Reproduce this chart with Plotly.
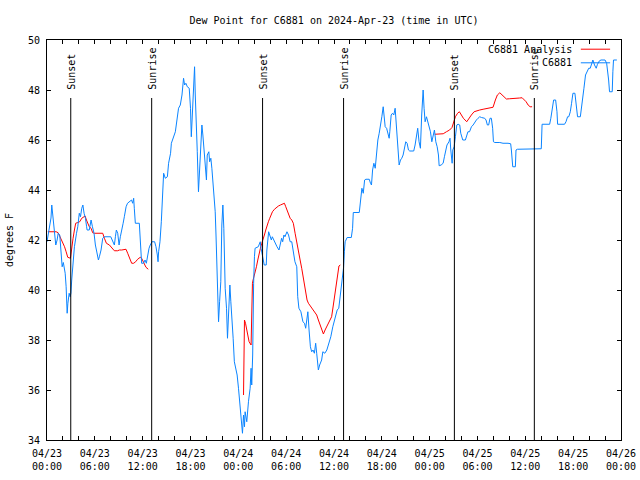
import pandas as pd
import plotly.graph_objects as go

START = pd.Timestamp("2024-04-23 00:00")
END = pd.Timestamp("2024-04-26 00:00")

# C6881 observations: hours since 2024-04-23 00:00 UTC, dew point (F)
obs_hours = [
    0.0, 0.2, 0.5, 0.6, 0.7, 0.85, 1.0, 1.1, 1.27, 1.4, 1.6, 1.78, 1.9, 2.05, 2.28, 2.4, 2.53, 2.62, 2.78, 2.9,
    3.0, 3.1, 3.3, 3.44, 3.7, 3.86, 4.05, 4.2, 4.36, 4.5, 4.65, 4.82, 4.97, 5.03, 5.3, 5.53, 5.7, 5.9, 6.07, 6.28,
    6.45, 6.57, 6.78, 6.99, 7.2, 8.0, 8.2, 8.45, 8.58, 8.7, 8.87, 9.04, 9.2, 9.37, 9.55, 9.7, 9.92, 10.1, 10.4, 10.6,
    10.75, 10.87, 10.95, 11.08, 11.58, 11.7, 11.87, 12.1, 12.3, 12.46, 12.6, 12.8, 12.95, 13.17, 13.5, 13.67, 13.84, 13.93, 14.0, 14.17,
    14.34, 14.5, 14.63, 14.84, 15.1, 15.25, 15.5, 15.6, 15.95, 16.1, 16.3, 16.5, 16.72, 16.93, 17.13, 17.26, 17.42, 17.6, 17.84, 18.0,
    18.1, 18.2, 18.3, 18.4, 18.51, 18.6, 18.72, 18.85, 19.0, 19.1, 19.25, 19.43, 19.55, 19.68, 19.85, 20.0, 20.1, 20.3, 20.4, 20.55,
    20.68, 20.9, 21.1, 21.2, 21.3, 21.45, 21.52, 21.65, 21.8, 21.93, 22.06, 22.18, 22.27, 22.35, 22.52, 22.64, 22.77, 22.94, 23.06, 23.18,
    23.35, 23.5, 23.68, 23.85, 24.02, 24.18, 24.35, 24.52, 24.65, 24.77, 24.85, 25.06, 25.27, 25.48, 25.6, 25.68, 25.8, 25.85, 25.92, 26.02,
    26.1, 26.5, 26.65, 26.75, 26.85, 27.1, 27.25, 27.5, 27.58, 27.8, 27.97, 28.14, 28.26, 28.43, 28.6, 28.85, 29.1, 29.27, 29.43, 29.56,
    29.72, 29.85, 30.1, 30.3, 30.5, 30.7, 30.9, 31.1, 31.33, 31.45, 31.6, 31.85, 32.1, 32.3, 32.45, 32.6, 32.72, 32.87, 33.04, 33.2,
    33.37, 33.54, 33.7, 33.83, 34.04, 34.2, 34.45, 34.6, 34.85, 35.1, 35.35, 35.6, 35.85, 36.1, 36.4, 36.6, 36.85, 37.0, 37.2, 37.3,
    37.4, 37.65, 38.17, 38.33, 38.42, 39.17, 39.25, 39.34, 39.5, 39.67, 39.84, 40.0, 40.42, 40.58, 40.7, 40.84, 41.0, 41.17, 41.34, 41.5,
    41.67, 41.84, 42.0, 42.17, 42.3, 42.42, 42.6, 42.76, 42.92, 43.0, 43.17, 43.34, 43.5, 43.67, 43.84, 44.0, 44.17, 44.34, 44.5, 44.67,
    44.84, 45.0, 45.17, 45.34, 45.5, 46.0, 46.17, 46.34, 46.5, 46.67, 46.84, 47.0, 47.18, 47.3, 47.43, 47.6, 47.77, 47.94, 48.1, 48.27,
    48.43, 48.6, 48.77, 48.94, 49.1, 49.19, 49.44, 49.69, 49.85, 50.0, 50.17, 50.42, 50.55, 50.65, 50.82, 50.9, 51.07, 51.23, 51.4, 51.57,
    51.77, 51.9, 52.15, 52.48, 52.65, 52.8, 53.0, 53.24, 53.45, 53.65, 53.86, 54.07, 54.28, 54.5, 54.7, 54.9, 55.07, 55.24, 55.4, 55.57,
    55.74, 55.9, 56.0, 56.17, 56.8, 57.2, 57.83, 58.16, 58.25, 58.42, 58.75, 58.83, 59.0, 60.3, 60.66, 62.0, 62.1, 63.05, 63.2, 63.4,
    63.55, 63.8, 63.97, 64.05, 64.92, 65.1, 65.3, 65.45, 65.64, 65.8, 65.97, 66.22, 66.38, 66.55, 66.9, 67.05, 67.2, 67.35, 67.55, 67.7,
    67.95, 68.14, 68.3, 68.47, 68.68, 68.89, 69.05, 69.3, 69.5, 69.7, 69.9, 70.0, 70.2, 70.35, 70.45, 70.56, 70.9, 70.98, 71.06, 71.48,
]
obs_dewpt = [
    41.93, 42.33, 42.88, 43.4, 43.1, 42.6, 41.93, 41.8, 42.0, 42.27, 42.2, 41.27, 40.93, 41.1, 40.67, 40.13, 39.07, 39.47, 39.87, 39.73,
    39.87, 40.4, 41.07, 41.73, 42.27, 42.53, 43.07, 42.93, 43.27, 43.4, 43.07, 42.87, 42.53, 42.4, 42.4, 42.8, 42.53, 42.27, 41.8, 41.53,
    41.2, 41.33, 41.6, 42.07, 42.13, 42.13, 42.0, 41.8, 42.13, 42.4, 42.27, 41.8, 42.13, 42.47, 42.67, 42.93, 43.33, 43.47, 43.53, 43.6,
    43.47, 43.67, 43.27, 42.67, 42.67, 41.87, 41.07, 41.07, 41.2, 41.07, 41.33, 41.67, 41.8, 41.93, 41.93, 41.73, 41.4, 41.13, 41.53, 41.93,
    42.73, 43.8, 44.67, 44.47, 44.53, 45.07, 45.47, 45.87, 46.27, 46.33, 46.8, 47.27, 47.4, 47.8, 48.47, 48.2, 48.27, 48.13, 48.07, 47.27,
    46.13, 46.87, 47.4, 48.4, 48.93, 47.8, 47.0, 45.53, 43.93, 44.6, 45.8, 46.6, 46.2, 45.67, 45.0, 44.4, 45.4, 45.53, 45.13, 45.27,
    44.87, 43.93, 43.13, 42.2, 40.87, 39.47, 38.73, 39.53, 40.33, 42.6, 43.4, 42.47, 41.4, 40.07, 39.27, 38.07, 39.0, 40.2, 39.53, 39.0,
    38.07, 37.13, 36.87, 36.6, 36.07, 35.4, 34.73, 34.27, 35.0, 34.53, 35.13, 34.73, 35.53, 36.07, 36.87, 36.2, 37.4, 39.27, 40.27, 41.33,
    41.67, 41.73, 41.87, 41.93, 41.67, 41.2, 41.0, 41.0, 41.6, 42.33, 42.13, 42.0, 42.13, 42.0, 41.87, 41.73, 41.6, 41.87, 42.07, 41.93,
    42.2, 42.13, 42.33, 42.2, 41.93, 41.93, 41.6, 41.13, 40.93, 39.73, 39.27, 39.13, 38.73, 38.67, 38.47, 39.0, 39.13, 38.4, 37.73, 37.53,
    37.6, 37.47, 37.87, 37.47, 36.8, 37.0, 37.2, 37.53, 37.47, 37.6, 37.87, 38.13, 38.53, 38.87, 39.2, 39.27, 40.0, 40.47, 40.9, 41.53,
    41.93, 42.1, 42.1, 42.47, 43.1, 43.1, 43.4, 43.8, 44.07, 43.87, 44.4, 44.43, 44.43, 44.27, 44.2, 44.8, 45.07, 44.87, 45.47, 46.0,
    46.27, 46.73, 46.93, 47.33, 47.0, 46.53, 46.47, 46.27, 46.07, 46.33, 47.0, 47.07, 47.0, 47.27, 46.47, 45.4, 45.0, 45.2, 45.27, 45.4,
    45.67, 45.93, 45.87, 45.6, 45.56, 45.56, 45.8, 46.07, 46.47, 45.93, 45.67, 47.0, 48.0, 47.27, 46.73, 46.93, 46.73, 46.53, 46.33, 45.93,
    46.13, 46.4, 45.93, 45.73, 45.4, 44.97, 45.0, 45.07, 45.33, 45.6, 45.8, 45.93, 46.07, 45.6, 45.07, 45.6, 45.73, 46.13, 46.6, 46.63,
    46.6, 46.27, 46.0, 46.0, 46.2, 46.33, 46.33, 46.53, 46.6, 46.73, 46.8, 46.87, 46.93, 46.9, 46.87, 46.87, 46.8, 46.6, 46.6, 46.87,
    46.87, 46.47, 45.93, 45.9, 45.9, 45.87, 45.87, 45.85, 45.6, 44.93, 44.93, 45.6, 45.63, 45.63, 45.65, 45.65, 46.63, 46.63, 46.87, 47.43,
    47.6, 47.6, 47.13, 46.63, 46.63, 46.73, 46.93, 46.93, 47.13, 47.47, 47.87, 47.87, 47.4, 46.93, 46.93, 47.4, 47.73, 48.07, 48.6, 48.73,
    48.87, 48.87, 49.03, 49.2, 49.0, 48.87, 49.03, 49.17, 49.2, 49.2, 49.17, 49.2, 49.07, 48.73, 48.4, 47.93, 47.93, 48.73, 49.2, 49.2,
]

# C6881 Analysis: three segments (gaps between them)
ana_hours_1 = [0.1, 1.15, 1.4, 1.65, 1.98, 2.2, 2.4, 2.6, 2.94, 3.1, 3.27, 3.44, 3.6, 3.86, 4.1, 4.36, 4.6, 4.78, 4.95, 5.12,
               5.3, 5.53, 5.73, 5.95, 6.99, 7.2, 7.45, 7.83, 8.03, 8.24, 8.45, 8.87, 9.08, 9.37, 9.7, 9.91, 10.12, 10.37, 10.62, 10.87,
               11.12, 11.37, 11.7, 11.87, 12.12, 12.41, 12.7]
ana_dewpt_1 = [42.33, 42.33, 42.29, 42.13, 41.93, 41.73, 41.53, 41.31, 41.27, 41.73, 42.07, 42.4, 42.67, 42.7, 42.73, 42.87, 42.93, 42.96, 42.8, 42.67,
               42.53, 42.47, 42.29, 42.27, 42.27, 42.07, 41.87, 41.8, 41.73, 41.67, 41.57, 41.57, 41.6, 41.6, 41.63, 41.63, 41.47, 41.27, 41.07, 41.07,
               41.13, 41.23, 41.31, 41.27, 41.07, 40.91, 40.83]
ana_hours_2 = [24.65, 24.7, 24.77, 24.9, 25.15, 25.35, 25.6, 25.65, 25.77, 25.85, 26.1, 26.27, 26.44, 26.6, 26.77, 26.94, 27.1, 27.27, 27.44, 27.6,
               27.77, 27.94, 28.1, 28.28, 28.53, 28.78, 29.03, 29.28, 29.53, 29.78, 29.95, 30.11, 30.28, 30.5, 30.7, 30.9, 31.12, 31.33, 31.54, 31.75,
               31.95, 32.12, 32.29, 32.45, 32.62, 32.79, 33.12, 33.41, 33.62, 33.83, 34.04, 34.25, 34.46, 34.67, 34.88, 35.09, 35.3, 35.5, 35.7, 35.83,
               35.95, 36.12, 36.29, 36.46, 36.62, 36.8]
ana_dewpt_2 = [35.8, 37.27, 38.8, 38.67, 38.27, 37.93, 37.8, 38.93, 40.27, 40.4, 40.67, 40.93, 41.2, 41.47, 41.67, 41.87, 42.0, 42.2, 42.4, 42.6,
               42.73, 42.87, 43.0, 43.13, 43.23, 43.31, 43.36, 43.4, 43.44, 43.47, 43.33, 43.2, 43.07, 42.87, 42.8, 42.67, 42.27, 41.87, 41.53, 41.2,
               40.87, 40.53, 40.2, 39.87, 39.6, 39.47, 39.33, 39.2, 39.07, 39.0, 38.8, 38.6, 38.4, 38.24, 38.4, 38.53, 38.67, 38.8, 38.93, 39.2,
               39.47, 39.87, 40.27, 40.67, 40.96, 41.0]
ana_hours_3 = [48.65, 49.3, 49.7, 50.1, 50.5, 50.8, 51.07, 51.23, 51.5, 51.73, 51.98, 52.23, 52.65, 52.9, 53.23, 53.57, 53.87, 54.28, 54.7, 55.12,
               55.53, 55.95, 56.24, 56.49, 56.8, 57.07, 57.32, 57.62, 58.03, 58.45, 58.87, 59.29, 59.6, 59.84, 60.1, 60.35, 60.6, 60.85]
ana_dewpt_3 = [46.23, 46.23, 46.25, 46.33, 46.4, 46.5, 46.73, 46.93, 47.07, 47.13, 47.0, 46.87, 46.73, 46.87, 47.0, 47.13, 47.17, 47.2, 47.23, 47.25,
               47.27, 47.31, 47.6, 47.8, 47.89, 47.8, 47.73, 47.64, 47.65, 47.67, 47.67, 47.68, 47.69, 47.63, 47.53, 47.4, 47.33, 47.33]

sunset_hours = [2.98, 27.04, 51.1]
sunrise_hours = [13.13, 37.2, 61.13]

tick_hours = list(range(0, 73, 2))
tick_labels = [(START + pd.Timedelta(hours=h)).strftime("%m/%d<br>%H:%M") if h % 6 == 0 else "" for h in tick_hours]

title_text = "Dew Point for C6881 on 2024-Apr-23 (time in UTC)"
legend_names = ["C6881 Analysis", "C6881"]
colors = ["#ff0000", "#0a84ff"]


def to_time(hours):
    return [START + pd.Timedelta(hours=h) for h in hours]


ana_x, ana_y = [], []
for hs, vs in [(ana_hours_1, ana_dewpt_1), (ana_hours_2, ana_dewpt_2), (ana_hours_3, ana_dewpt_3)]:
    ana_x += to_time(hs) + [None]
    ana_y += vs + [None]

FONT = "DejaVu Sans Mono"
fig = go.Figure()
fig.add_trace(go.Scatter(x=ana_x, y=ana_y, mode="lines", name=legend_names[0],
                         line=dict(color=colors[0], width=1), connectgaps=False))
fig.add_trace(go.Scatter(x=to_time(obs_hours), y=obs_dewpt, mode="lines", name=legend_names[1],
                         line=dict(color=colors[1], width=1)))

# sunrise / sunset markers
for label, hours in [("Sunset", sunset_hours), ("Sunrise", sunrise_hours)]:
    for t in to_time(hours):
        fig.add_shape(type="line", xref="x", yref="paper", x0=t, x1=t, y0=0, y1=0.855,
                      line=dict(color="black", width=1))
        fig.add_annotation(x=t, xref="x", y=0.87, yref="paper", text=label, textangle=-90,
                           showarrow=False, xanchor="center", yanchor="bottom",
                           font=dict(family=FONT, size=10, color="black"))

# gnuplot-style key: text on the left, sample line on the right
for i, (name, col) in enumerate(zip(legend_names, colors)):
    yy = 0.977 - i * 0.034
    fig.add_annotation(x=0.918, xref="paper", y=yy, yref="paper", text=name, showarrow=False,
                       xanchor="right", yanchor="middle", font=dict(family=FONT, size=10, color="black"))
    fig.add_shape(type="line", xref="paper", yref="paper", x0=0.930, x1=0.981, y0=yy, y1=yy,
                  line=dict(color=col, width=1))

fig.update_layout(
    width=640, height=480, autosize=False,
    margin=dict(l=47, r=19, t=40, b=40, autoexpand=False),
    paper_bgcolor="white", plot_bgcolor="white",
    showlegend=False,
    font=dict(family=FONT, size=10, color="black"),
    title=dict(text=title_text, x=0.5, xref="paper", xanchor="center",
               y=1 - 20 / 480, yref="container", yanchor="middle",
               font=dict(family=FONT, size=10, color="black")),
    xaxis=dict(range=[START, END], tickmode="array", tickvals=to_time(tick_hours), ticktext=tick_labels,
               ticks="inside", ticklen=4, tickcolor="black", showline=True, linecolor="black",
               linewidth=1, mirror="ticks", showgrid=False, zeroline=False, automargin=False,
               ticklabelstandoff=4,
               tickfont=dict(family=FONT, size=10, color="black")),
    yaxis=dict(range=[34, 50], dtick=2, tick0=34, ticks="inside", ticklen=4, tickcolor="black",
               showline=True, linecolor="black", linewidth=1, mirror="ticks", showgrid=False,
               zeroline=False, ticklabelstandoff=4, automargin=False,
               title=dict(text="degrees F", standoff=12, font=dict(family=FONT, size=10, color="black")),
               tickfont=dict(family=FONT, size=10, color="black")),
)

fig.write_html(
    "out.html",
    config={"displayModeBar": False},
    post_script="document.body.style.margin='0';document.body.style.padding='0';"
                "document.documentElement.style.overflow='hidden';",
)
